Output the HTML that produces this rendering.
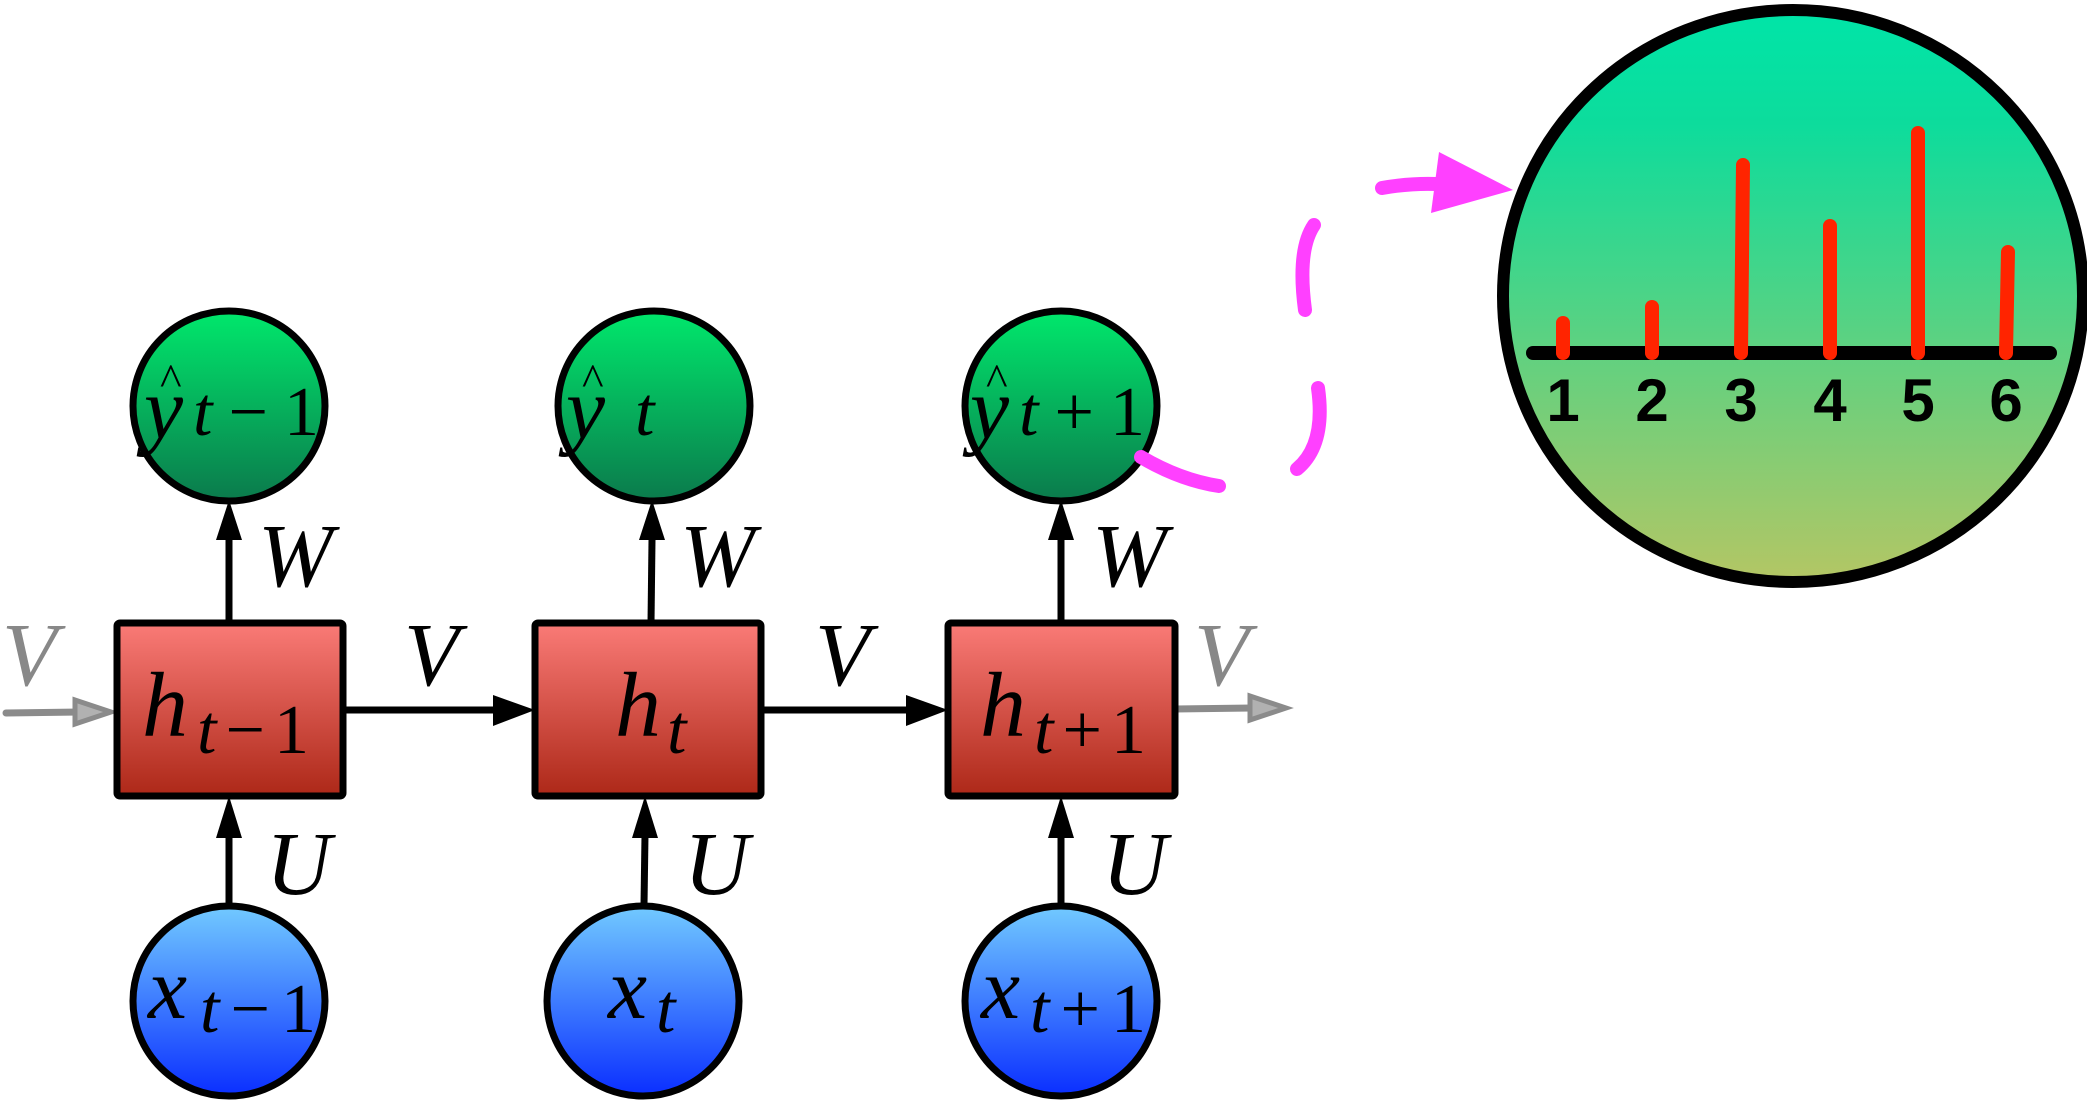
<!DOCTYPE html>
<html><head><meta charset="utf-8"><style>html,body{margin:0;padding:0;background:#fff}svg{display:block}</style></head>
<body>
<svg width="2087" height="1102" viewBox="0 0 2087 1102" xmlns="http://www.w3.org/2000/svg" font-family="Liberation Serif, serif">
<defs>
<linearGradient id="gy" x1="0" y1="0" x2="0" y2="1"><stop offset="0" stop-color="#00e86c"/><stop offset="1" stop-color="#0b7a4c"/></linearGradient>
<linearGradient id="gh" x1="0" y1="0" x2="0" y2="1"><stop offset="0" stop-color="#fa7b77"/><stop offset="1" stop-color="#ad2818"/></linearGradient>
<linearGradient id="gx" x1="0" y1="0" x2="0" y2="1"><stop offset="0" stop-color="#72caff"/><stop offset="1" stop-color="#0a2eff"/></linearGradient>
<linearGradient id="gb" x1="0" y1="0" x2="0" y2="1"><stop offset="0" stop-color="#00e5a8"/><stop offset="0.2" stop-color="#0ddc9c"/><stop offset="1" stop-color="#b4c664"/></linearGradient>
</defs>
<g stroke="#000" stroke-width="7">
<line x1="229" y1="623" x2="229" y2="540"/><line x1="651" y1="623" x2="652" y2="540"/><line x1="1061" y1="623" x2="1061" y2="540"/>
<line x1="229" y1="905" x2="229" y2="835"/><line x1="644" y1="905" x2="645" y2="835"/><line x1="1061" y1="905" x2="1061" y2="835"/>
<line x1="343" y1="710" x2="495" y2="710"/><line x1="761" y1="710" x2="908" y2="710"/>
</g>
<g fill="#000">
<polygon points="229,500 216,540 242,540"/><polygon points="652,500 639,540 665,540"/><polygon points="1061,500 1048,540 1074,540"/>
<polygon points="229,796 216,838 242,838"/><polygon points="645,796 632,838 658,838"/><polygon points="1061,796 1048,838 1074,838"/>
<polygon points="535,710 493,695 493,726"/><polygon points="948,710 906,695 906,726"/>
</g>
<g opacity="0.45">
<line x1="6" y1="713" x2="80" y2="712" stroke="#000" stroke-width="7" stroke-linecap="round"/>
<polygon points="75,700 111,712 75,724" fill="#555" stroke="#000" stroke-width="5"/>
<line x1="1175" y1="709" x2="1252" y2="708" stroke="#000" stroke-width="7"/>
<polygon points="1250,696 1286,708 1250,720" fill="#555" stroke="#000" stroke-width="5"/>
</g>
<g stroke="#000" stroke-width="7">
<rect x="117" y="623" width="226" height="173" rx="3" fill="url(#gh)"/>
<rect x="535" y="623" width="226" height="173" rx="3" fill="url(#gh)"/>
<rect x="948" y="623" width="227" height="173" rx="3" fill="url(#gh)"/>
<ellipse cx="229" cy="406" rx="96" ry="95" fill="url(#gy)"/>
<ellipse cx="654" cy="406" rx="96" ry="95" fill="url(#gy)"/>
<ellipse cx="1061" cy="406" rx="96" ry="95" fill="url(#gy)"/>
<ellipse cx="229" cy="1001" rx="96" ry="95" fill="url(#gx)"/>
<ellipse cx="643" cy="1001" rx="96" ry="95" fill="url(#gx)"/>
<ellipse cx="1061" cy="1001" rx="96" ry="95" fill="url(#gx)"/>
</g>
<g font-style="italic" fill="#000">
<text x="144" y="438" font-size="88">y</text><text x="160" y="395" font-size="46" font-style="normal">^</text>
<text x="193" y="435" font-size="70" textLength="126" lengthAdjust="spacing">t<tspan font-style="normal">−1</tspan></text>
<text x="566" y="438" font-size="88">y</text><text x="582" y="395" font-size="46" font-style="normal">^</text><text x="635" y="435" font-size="70">t</text>
<text x="970" y="438" font-size="88">y</text><text x="986" y="395" font-size="46" font-style="normal">^</text>
<text x="1019" y="435" font-size="70" textLength="126" lengthAdjust="spacing">t<tspan font-style="normal">+1</tspan></text>

<text x="142" y="736" font-size="92">h</text>
<text x="197" y="753" font-size="70" textLength="112" lengthAdjust="spacing">t<tspan font-style="normal">−1</tspan></text>
<text x="615" y="736" font-size="92">h</text><text x="667" y="753" font-size="70">t</text>
<text x="980" y="736" font-size="92">h</text>
<text x="1034" y="753" font-size="70" textLength="112" lengthAdjust="spacing">t<tspan font-style="normal">+1</tspan></text>

<text x="148" y="1018" font-size="88">x</text>
<text x="200" y="1032" font-size="70" textLength="116" lengthAdjust="spacing">t<tspan font-style="normal">−1</tspan></text>
<text x="608" y="1018" font-size="88">x</text><text x="656" y="1032" font-size="70">t</text>
<text x="981" y="1018" font-size="88">x</text>
<text x="1030" y="1032" font-size="70" textLength="116" lengthAdjust="spacing">t<tspan font-style="normal">+1</tspan></text>
<g font-size="90">
<text x="258" y="586">W</text><text x="680" y="586">W</text><text x="1092" y="586">W</text>
<text x="404" y="685">V</text><text x="815" y="685">V</text>
<text x="266" y="894">U</text><text x="684" y="894">U</text><text x="1102" y="894">U</text>
<text x="2" y="685" fill="#888">V</text><text x="1194" y="685" fill="#888">V</text>
</g>
</g>
<g stroke="#ff40ff" stroke-width="14" stroke-linecap="round" fill="none">
<path d="M1141,457 Q1180,480 1219,486"/>
<path d="M1297,469 Q1326,445 1318,388"/>
<path d="M1305,310 Q1297,250 1314,225"/>
<path d="M1382,188 Q1410,183 1437,184"/>
</g>
<polygon points="1439,152 1513,190 1431,213" fill="#ff40ff"/>
<ellipse cx="1793" cy="296" rx="290" ry="286" fill="url(#gb)" stroke="#000" stroke-width="12"/>
<line x1="1533" y1="353" x2="2050" y2="353" stroke="#000" stroke-width="14" stroke-linecap="round"/>
<g stroke="#ff2400" stroke-width="14" stroke-linecap="round">
<line x1="1563" y1="353" x2="1563" y2="323"/>
<line x1="1652" y1="353" x2="1652" y2="307"/>
<line x1="1741" y1="353" x2="1743" y2="165"/>
<line x1="1830" y1="353" x2="1830" y2="226"/>
<line x1="1918" y1="353" x2="1918" y2="133"/>
<line x1="2006" y1="353" x2="2008" y2="252"/>
</g>
<g font-family="Liberation Sans, sans-serif" font-weight="bold" font-size="60" text-anchor="middle" fill="#000">
<text x="1563" y="421">1</text><text x="1652" y="421">2</text><text x="1741" y="421">3</text><text x="1830" y="421">4</text><text x="1918" y="421">5</text><text x="2006" y="421">6</text>
</g>
</svg>
</body></html>
